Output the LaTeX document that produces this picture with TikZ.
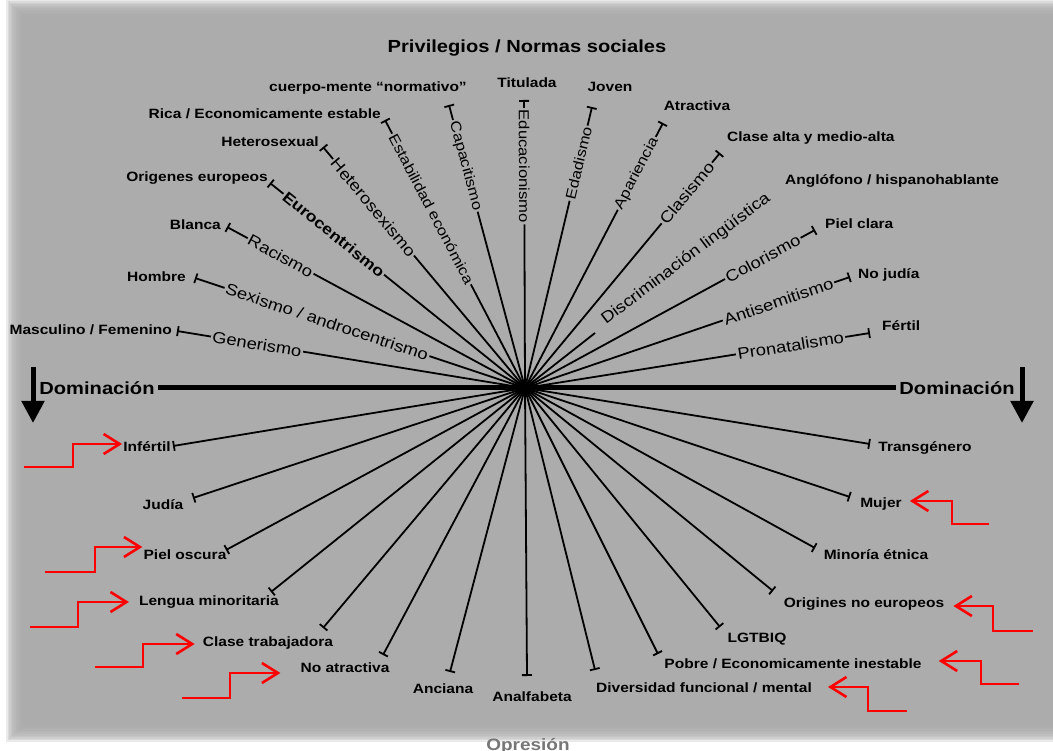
\documentclass[tikz,border=0pt]{standalone}
\usepackage{fontspec}
\setmainfont{Liberation Sans}[FakeStretch=1.15]
\usetikzlibrary{arrows.meta,calc}

\definecolor{bggray}{RGB}{172,172,172}
\definecolor{opgray}{RGB}{118,118,118}

\tikzset{
	ray/.style={line width=1.8pt, -{Bar[width=10pt]}},
	tiplabel/.style={font=\fontsize{13.5}{15}\selectfont\bfseries, inner sep=0pt},
	rlab/.style={font=\fontsize{16}{18}\selectfont},
	rlabv/.style={font=\fontsize{14.5}{17}\selectfont},
	rbold/.style={font=\fontsize{15.5}{18}\selectfont\bfseries},
	raylabel/.style={fill=bggray, inner sep=1.5pt, sloped},
	domlabel/.style={font=\fontsize{17.5}{20}\selectfont\bfseries},
	downarrow/.style={line width=5pt, -{Triangle[length=22pt,width=22pt]}},
	stair/.style={red, line width=2.6pt, -{Straight Barb[length=16pt,width=20pt]}},
}

\begin{document}
\begin{tikzpicture}[x=1pt,y=-1pt]
\useasboundingbox (0,0) rectangle (1053,751);
% background with soft edge
\fill[white] (0,0) rectangle (1053,751);
\foreach \i in {0,...,9} {
	\fill[bggray, opacity=0.25] (6+1.6*\i,1.4*\i) rectangle (1060,742-1.6*\i);
}
\fill[bggray] (22,14) rectangle (1060,726);

\coordinate (c) at (525,388);
\node[domlabel] (title) at (527,48) {Privilegios / Normas sociales};

% upper rays
\foreach \nm/\tx/\ty/\p/\rl/\st in {
	gen/177/331/0.77/Generismo/rlab,
	sex/195/278/0.6/{Sexismo / androcentrismo}/rlab,
	rac/227/227/0.82/Racismo/rlab,
	eur/270/183/0.75/Eurocentrismo/rbold,
	hes/323/147/0.75/Heterosexismo/rlab,
	est/385/120/0.668/{Estabilidad económica}/rlabv,
	cap/449/105/0.785/Capacitismo/rlabv,
	edu/524/100/0.77/Educacionismo/rlabv,
	eda/592/107/0.8/Edadismo/rlabv,
	apa/663/123/0.81/Apariencia/rlabv,
	clas/720/153/0.83/Clasismo/rlab,
	col/815/230/0.82/Colorismo/rlab,
	ant/850/277/0.78/Antisemitismo/rlab,
	pro/870/333/0.77/Pronatalismo/rlab} {
	\coordinate (t\nm) at (\tx,\ty);
	\draw[ray] (c) -- node[raylabel,\st,pos=\p] {\rl} (t\nm);
}
\coordinate (tdis) at (595,333);
\draw[line width=1.8pt] (c) -- (tdis);
\node[rlab, rotate=37] (dis) at (686,259) {Discriminación lingüística};
\fill (c) ellipse (11 and 6);

% upper labels
\foreach \nm/\anc/\lx/\ly/\txt in {
	mas/east/172/330/{Masculino / Femenino},
	hom/east/186/277/Hombre,
	bla/east/221/225/Blanca,
	ori/east/268/178/{Origenes europeos},
	het/east/319/142/Heterosexual,
	ric/east/381/114/{Rica / Economicamente estable},
	cue/center/368/88/{cuerpo-mente “normativo”},
	tit/center/527/83/Titulada,
	jov/center/610/87/Joven,
	atr/center/697/106/Atractiva,
	cla/west/727/138/{Clase alta y medio-alta},
	ang/west/785/181/{Anglófono / hispanohablante},
	pie/west/825/224/{Piel clara},
	noj/west/858/275/{No judía},
	fer/west/882/326/Fértil} {
	\node[tiplabel, anchor=\anc] (l\nm) at (\lx,\ly) {\txt};
}

% lower rays
\foreach \nm/\tx/\ty/\lx/\ly/\txt in {
	inf/173/446/147/447/Infértil,
	jud/193/498/163/505/Judía,
	pio/226/550/185/555/{Piel oscura},
	len/271/592/209/602/{Lengua minoritaria},
	ctr/323/628/268/643/{Clase trabajadora},
	noa/383/655/345/668/{No atractiva},
	anc/450/672/443/689/Anciana,
	ana/527/676/532/697/Analfabeta,
	div/595/670/704/688/{Diversidad funcional / mental},
	pob/658/654/793/664/{Pobre / Economicamente inestable},
	lgt/720/627/757/639/LGTBIQ,
	orn/773/591/864/604/{Origines no europeos},
	min/815/548/876/555/{Minoría étnica},
	muj/850/497/881/504/Mujer,
	tra/870/444/925/448/Transgénero} {
	\coordinate (b\nm) at (\tx,\ty);
	\draw[ray] (c) -- (b\nm);
	\node[tiplabel] (l\nm) at (\lx,\ly) {\txt};
}

% Dominacion axis
\node[domlabel] (dl) at (97,388) {Dominación};
\node[domlabel] (dr) at (957,388) {Dominación};
\draw[line width=5pt] (dl) -- (dr);
\coordinate (al) at (33,367);
\coordinate (al2) at (33,423);
\coordinate (ar) at (1022,367);
\coordinate (ar2) at (1022,423);
\draw[downarrow] (al) -- (al2);
\draw[downarrow] (ar) -- (ar2);

\node[font=\fontsize{16.5}{18}\selectfont\bfseries, text=opgray] (op) at (528,746) {Opresión};

% red stair arrows
\foreach \lb/\sx/\sy/\dx/\sh/\ys/\anc in {
	linf/24/467/49/1pt/3pt/west,
	lpio/45/572/50/1pt/8pt/west,
	llen/30/627/48/10pt/0pt/west,
	lctr/95/667/48/8pt/-1pt/west,
	lnoa/182/698/48/20pt/-5pt/west,
	lmuj/989/524/-37/8pt/3pt/east,
	lorn/1033/631/-40/9pt/-2pt/east,
	lpob/1019/684/-38/17pt/3pt/east,
	ldiv/907/711/-39/16pt/1pt/east} {
	\coordinate (s\lb) at (\sx,\sy);
	\draw[stair, shorten >=\sh] (s\lb) -- ++(\dx,0) |- ([yshift=\ys]\lb.\anc);
}
\end{tikzpicture}
\end{document}
